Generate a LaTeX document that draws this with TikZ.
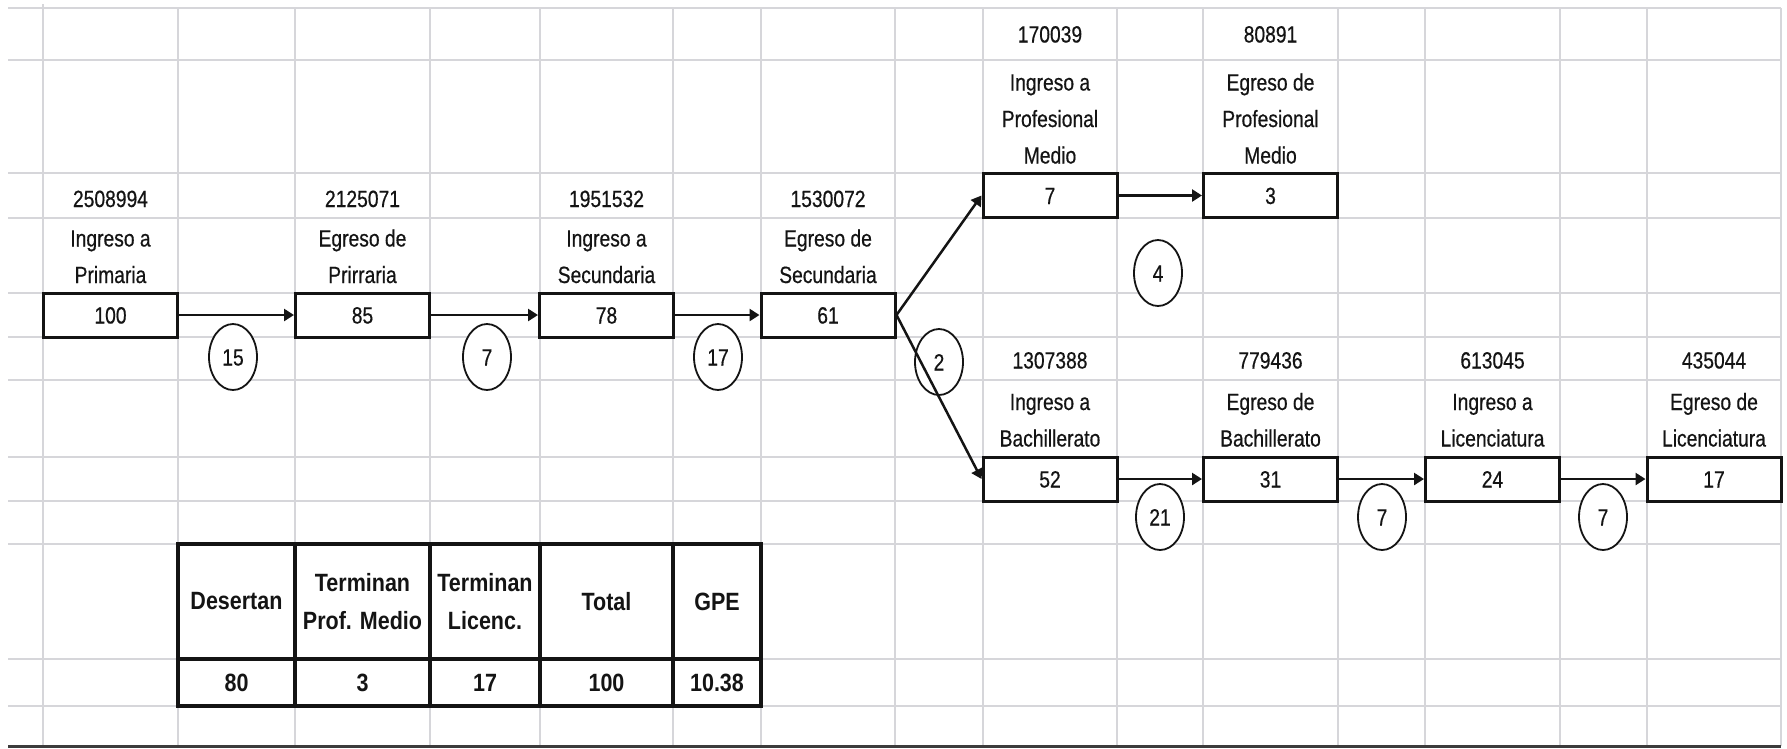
\documentclass[tikz,border=0pt]{standalone}
\usepackage{fontspec}
\usetikzlibrary{arrows.meta,shapes.geometric}
\newfontfamily\labfont{Liberation Sans}[FakeStretch=0.82,FakeBold=0.5]
\newfontfamily\tabfont{Liberation Sans}[FakeStretch=0.86]
\definecolor{gridgray}{RGB}{214,214,218}
\definecolor{ink}{RGB}{20,20,20}
\definecolor{baseline}{RGB}{60,60,60}
\begin{document}
\begin{tikzpicture}[x=1pt,y=-1pt,
  lbl/.style={font=\labfont\fontsize{23.5}{36.5}\selectfont, align=center, anchor=base, inner sep=0pt, text=ink},
  stage/.style={draw=ink, line width=3pt, fill=white, minimum width=134pt, minimum height=44pt, inner sep=0pt, text height=17pt, text depth=0pt, text=ink, font=\labfont\fontsize{23.5}{28}\selectfont},
  loss/.style={ellipse, draw=ink, line width=1.8pt, fill=white, minimum width=48pt, minimum height=66pt, inner sep=0pt, text height=17pt, text depth=0pt, text=ink, font=\labfont\fontsize{23.5}{28}\selectfont},
  flow/.style={draw=ink, line width=2.5pt, -{Triangle[length=10pt,width=12pt]}},
  cell/.style={draw=ink, line width=3.8pt, fill=white, inner sep=0pt, align=center, text=ink, font=\tabfont\bfseries\fontsize{25}{38}\selectfont},
  gridline/.style={draw=gridgray, line width=2.5pt}
]
\useasboundingbox[fill=white] (0,0) rectangle (1787,748);
% spreadsheet grid
\foreach \yy in {8,60,173,218,293,337,380,457,501,544,659,706}
  \draw[gridline] (8,\yy) -- (1781,\yy);
\foreach \xx in {178,295,430,540,673,761,895,983,1117,1203,1338,1425,1560,1647,1781}
  \draw[gridline] (\xx,8) -- (\xx,746);
\draw[gridline] (43,4) -- (43,746);
\draw[draw=baseline, line width=3pt] (8,746.5) -- (1781,746.5);

% labels above boxes (base = baseline of last line)
\node[lbl] (n100) at (110.5,207) {2508994};
\node[lbl] (t100) at (110.5,283) {Ingreso a\\Primaria};
\node[lbl] (n85) at (362.5,207) {2125071};
\node[lbl] (t85) at (362.5,283) {Egreso de\\Prirraria};
\node[lbl] (n78) at (606.5,207) {1951532};
\node[lbl] (t78) at (606.5,283) {Ingreso a\\Secundaria};
\node[lbl] (n61) at (828,207) {1530072};
\node[lbl] (t61) at (828,283) {Egreso de\\Secundaria};
\node[lbl] (n7) at (1050,42.5) {170039};
\node[lbl] (t7) at (1050,163.5) {Ingreso a\\Profesional\\Medio};
\node[lbl] (n3) at (1270.5,42.5) {80891};
\node[lbl] (t3) at (1270.5,163.5) {Egreso de\\Profesional\\Medio};
\node[lbl] (n52) at (1050,368.5) {1307388};
\node[lbl] (t52) at (1050,446.5) {Ingreso a\\Bachillerato};
\node[lbl] (n31) at (1270.5,368.5) {779436};
\node[lbl] (t31) at (1270.5,446.5) {Egreso de\\Bachillerato};
\node[lbl] (n24) at (1492.5,368.5) {613045};
\node[lbl] (t24) at (1492.5,446.5) {Ingreso a\\Licenciatura};
\node[lbl] (n17) at (1714,368.5) {435044};
\node[lbl] (t17) at (1714,446.5) {Egreso de\\Licenciatura};

% loss circles
\node[loss] (c15) at (233,357) {15};
\node[loss] (c7a) at (487,357) {7};
\node[loss] (c17) at (718,357) {17};
\node[loss] (c2) at (939,362) {2};
\node[loss] (c4) at (1158,273) {4};
\node[loss] (c21) at (1160,517) {21};
\node[loss] (c7b) at (1382,517) {7};
\node[loss] (c7c) at (1603,517) {7};

% stage boxes
\node[stage] (b100) at (110.5,315) {100};
\node[stage] (b85) at (362.5,315) {85};
\node[stage] (b78) at (606.5,315) {78};
\node[stage] (b61) at (828,315) {61};
\node[stage] (b7) at (1050,195.5) {7};
\node[stage] (b3) at (1270.5,195.5) {3};
\node[stage] (b52) at (1050,479) {52};
\node[stage] (b31) at (1270.5,479) {31};
\node[stage] (b24) at (1492.5,479) {24};
\node[stage] (b17) at (1714,479) {17};

% flows
\draw[flow] (b100.east) -- (b85.west);
\draw[flow] (b85.east) -- (b78.west);
\draw[flow] (b78.east) -- (b61.west);
\draw[flow] (b61.east) -- (b7.west);
\draw[flow] (b61.east) -- (b52.west);
\draw[flow] (b7.east) -- (b3.west);
\draw[flow] (b52.east) -- (b31.west);
\draw[flow] (b31.east) -- (b24.west);
\draw[flow] (b24.east) -- (b17.west);

% summary table
\node[cell, minimum width=117pt, minimum height=115pt] (h1) at (236.5,601.5) {Desertan};
\node[cell, minimum width=135pt, minimum height=115pt] (h2) at (362.5,601.5) {Terminan\\Prof. Medio};
\node[cell, minimum width=110pt, minimum height=115pt] (h3) at (485,601.5) {Terminan\\Licenc.};
\node[cell, minimum width=133pt, minimum height=115pt] (h4) at (606.5,601.5) {Total};
\node[cell, minimum width=88pt, minimum height=115pt] (h5) at (717,601.5) {GPE};
\node[cell, minimum width=117pt, minimum height=47pt] (v1) at (236.5,682.5) {80};
\node[cell, minimum width=135pt, minimum height=47pt] (v2) at (362.5,682.5) {3};
\node[cell, minimum width=110pt, minimum height=47pt] (v3) at (485,682.5) {17};
\node[cell, minimum width=133pt, minimum height=47pt] (v4) at (606.5,682.5) {100};
\node[cell, minimum width=88pt, minimum height=47pt] (v5) at (717,682.5) {10.38};
\end{tikzpicture}
\end{document}
